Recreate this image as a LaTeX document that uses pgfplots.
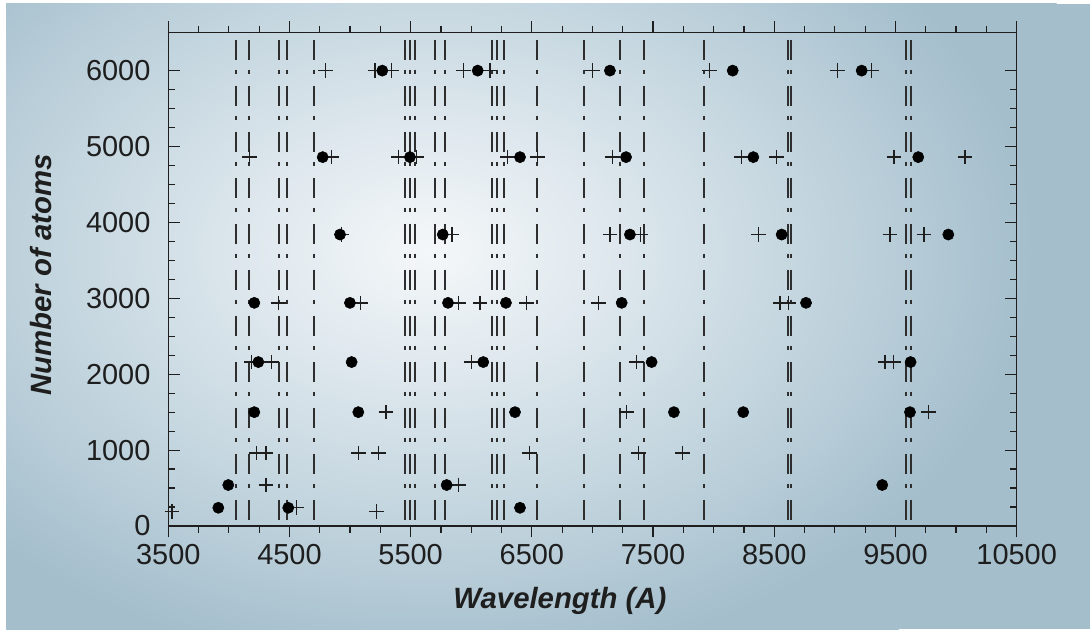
\documentclass[border=0pt]{standalone}
\usepackage{pgfplots}
\pgfplotsset{compat=1.18}
\usepackage{fontspec}
\setmainfont{Liberation Sans}
\definecolor{bgc0}{HTML}{F4F7F9}
\definecolor{bgc1}{HTML}{E3EBF0}
\definecolor{bgc2}{HTML}{C0D3DD}
\definecolor{bgc3}{HTML}{A4BECC}
\definecolor{ink}{HTML}{1E1E1E}
\definecolor{vline}{HTML}{2E2E2E}
\pgfdeclareradialshading{bgshade}{\pgfpointorigin}{color(0bp)=(bgc0); color(5bp)=(bgc1); color(14bp)=(bgc2); color(21bp)=(bgc3); color(25bp)=(bgc3); color(50bp)=(bgc3)}

% filled circles
\pgfplotstableread{
x y
5266 6000
6053 6000
7144 6000
8157 6000
9221 6000
4774 4860
5494 4860
6402 4860
7277 4860
8327 4860
9688 4860
4917 3840
5765 3840
7309 3840
8561 3840
9936 3840
4210 2940
4999 2940
5808 2940
6286 2940
7241 2940
8762 2940
4243 2160
5013 2160
6099 2160
7488 2160
9625 2160
4210 1500
5068 1500
6361 1500
7672 1500
8244 1500
9620 1500
3995 540
5797 540
9391 540
3913 240
4490 240
6402 240
}\circles

% plus marks
\pgfplotstableread{
x y
4799 6000
5205 6000
5343 6000
5934 6000
6154 6000
7002 6000
7964 6000
9020 6000
9303 6000
4168 4860
4848 4860
5398 4860
5549 4860
6297 4860
6545 4860
7167 4860
8231 4860
8520 4860
9488 4860
10074 4860
4930 3840
5840 3840
7144 3840
7398 3840
8368 3840
9455 3840
9735 3840
4408 2940
5088 2940
5893 2940
6072 2940
6457 2940
7048 2940
8547 2940
8616 2940
4188 2160
4353 2160
6003 2160
7365 2160
9413 2160
9482 2160
5296 1500
7282 1500
9771 1500
4229 960
4306 960
5068 960
5233 960
6479 960
7378 960
7744 960
4306 540
5893 540
4559 240
3530 195
5219 195
}\plusses

\begin{document}
\begin{tikzpicture}
\fill[white] (0pt,0pt) rectangle (817.5pt,471.75pt);
\begin{scope}
\clip (4.5pt,0pt) rectangle (817.5pt,468.75pt);
\fill[bgc3] (4.5pt,0pt) rectangle (817.5pt,468.75pt);
\shade[shading=bgshade,overlay] (322.5pt,284.25pt) ellipse (540pt and 375pt);
\end{scope}
\begin{axis}[
  at={(126.2pt,77.25pt)}, anchor=south west,
  scale only axis, width=636.3pt, height=370pt,
  xmin=3500, xmax=10500, ymin=0, ymax=6500,
  tick align=inside,
  xtick=\empty,
  ytick={0,1000,...,6000}, minor y tick num=3,
  scaled y ticks=false,
  major tick length=8.5pt, minor tick length=5pt,
  axis line style={ink, line width=1pt},
  every tick/.style={ink, line width=0.9pt},
  /pgf/number format/1000 sep={},
  /pgf/number format/assume math mode=true,
  yticklabel style={font=\fontsize{21.7pt}{26pt}\selectfont, text=ink, inner sep=1pt, xshift=-12.2pt},
  ylabel={\bfseries\itshape Number of atoms},
  ylabel style={font=\fontsize{22pt}{26pt}\selectfont, text=ink, at={(axis description cs:-0.1497,0.509)}, anchor=center},
]
\pgfplotsinvokeforeach{4059,4166,4417,4479,4706,5456,5497,5538,5703,5786,6174,6215,6273,6545,6933,7230,7429,7924,8615,8640,9587,9629}{
  \addplot[vline, line width=1.5pt, dash pattern=on 15pt off 7.5pt on 3pt off 9pt, dash phase=29.25pt, forget plot] coordinates {(#1,6500) (#1,0)};
}
\addplot[only marks, mark=+, mark size=5.5pt, color=ink, mark options={line width=1pt}] table[x=x,y=y] {\plusses};
\addplot[only marks, mark=*, mark size=4.2pt, color=black, fill=black] table[x=x,y=y] {\circles};
\end{axis}
\begin{axis}[
  at={(126.2pt,77.25pt)}, anchor=south west,
  scale only axis, width=636.3pt, height=370pt,
  xmin=3500, xmax=10500, ymin=0, ymax=6500,
  tick align=outside,
  ytick=\empty,
  xtick={3500,4500,...,10500}, minor x tick num=3,
  scaled x ticks=false,
  major tick length=8.5pt, minor tick length=5pt,
  axis line style={ink, line width=1pt},
  every tick/.style={ink, line width=0.9pt},
  /pgf/number format/1000 sep={},
  /pgf/number format/assume math mode=true,
  xticklabel style={font=\fontsize{21.7pt}{26pt}\selectfont, text=ink, inner sep=1pt, yshift=-4.2pt},
  xlabel={\bfseries\itshape Wavelength (A)},
  xlabel style={font=\fontsize{22pt}{26pt}\selectfont, text=ink, at={(axis description cs:0.4617,-0.152)}, anchor=center},
]
\end{axis}
\pgfresetboundingbox
\path (0pt,0pt) rectangle (817.5pt,471.75pt);
\end{tikzpicture}
\end{document}
